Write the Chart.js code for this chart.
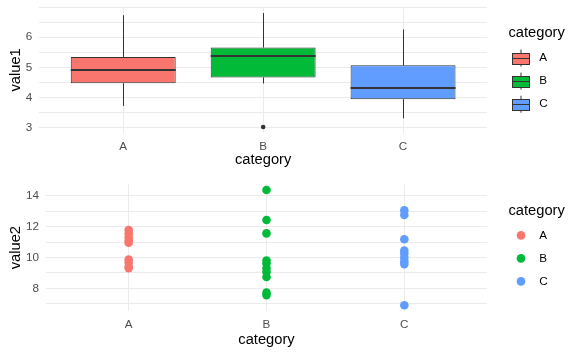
<!DOCTYPE html>
<html>
<head>
<meta charset="utf-8">
<script src="https://cdn.jsdelivr.net/npm/chart.js@4.4.1/dist/chart.umd.min.js"></script>
<style>
  html, body { margin: 0; padding: 0; background: #ffffff; }
  body { width: 581px; height: 355px; overflow: hidden; position: relative; }
  #c1 { position: absolute; left: 0; top: 0; }
  #c2 { position: absolute; left: 0; top: 175px; }
</style>
</head>
<body>
<canvas id="c1" width="581" height="175"></canvas>
<canvas id="c2" width="581" height="180"></canvas>
<script>
// ---------------- data ----------------
const categories = ['A', 'B', 'C'];
const colors = ['#F8766D', '#00BA38', '#619CFF'];

// value1 box plot statistics (per category)
const whiskerLow  = [3.73, 4.47, 3.32];
const quartile1   = [4.48, 4.67, 3.95];
const medians     = [4.91, 5.38, 4.33];
const quartile3   = [5.35, 5.66, 5.07];
const whiskerHigh = [6.73, 6.80, 6.26];
const outlierCategory = ['B'];
const outlierValue    = [3.03];

// value2 points (per category)
const value2A = [11.78, 11.55, 11.30, 11.10, 10.95, 9.87, 9.65, 9.40, 9.31];
const value2B = [14.37, 12.43, 11.56, 9.80, 9.60, 9.30, 9.05, 8.73, 7.72, 7.56];
const value2C = [13.05, 12.75, 11.18, 10.45, 10.25, 10.00, 9.75, 9.57, 6.90];
const value2 = [value2A, value2B, value2C];

// tick labels
const value1Ticks = [3, 4, 5, 6];
const value2Ticks = [8, 10, 12, 14];

// ---------------- styling ----------------
const FONT = '"Liberation Sans", Arial, sans-serif';
const GRID = '#EBEBEB';
const TICK_COLOR = '#4D4D4D';
const LINE = '#333333';

Chart.defaults.font.family = FONT;
Chart.defaults.devicePixelRatio = 1;

function xScale(height, pad) {
  return {
    type: 'linear', min: -0.6, max: 2.6, offset: false,
    afterFit: s => { s.height = height; s.paddingLeft = 0; s.paddingRight = 0; },
    border: { display: false },
    grid: { color: GRID, lineWidth: 1, drawTicks: false, offset: false },
    ticks: {
      stepSize: 1, includeBounds: false, autoSkip: false,
      padding: pad, color: TICK_COLOR, font: { size: 11.7 },
      callback: v => (categories[v] !== undefined ? categories[v] : '')
    },
    title: { display: true, text: 'category', color: '#000', font: { size: 14.7 }, padding: { top: 0, bottom: 6 } }
  };
}

function yScale(min, max, step, labels, width, title) {
  return {
    type: 'linear', min: min, max: max,
    afterFit: s => { s.width = width; s.paddingTop = 0; s.paddingBottom = 0; },
    border: { display: false },
    grid: { color: GRID, lineWidth: 1, drawTicks: false },
    ticks: {
      stepSize: step, includeBounds: false, autoSkip: false,
      padding: 7, color: TICK_COLOR, font: { size: 11.7 },
      callback: v => (labels.includes(v) ? String(v) : '')
    },
    title: { display: true, text: title, color: '#000', font: { size: 14.7 }, padding: { top: 6.7, bottom: 0 } }
  };
}

function legendPlugin(kind, titleBaseline, firstY, stepY) {
  return {
    id: 'ggLegend' + kind,
    afterDraw(chart) {
      const ctx = chart.ctx;
      ctx.save();
      ctx.fillStyle = '#000';
      ctx.font = '14.7px ' + FONT;
      ctx.textAlign = 'left';
      ctx.textBaseline = 'alphabetic';
      ctx.fillText('category', 508.5, titleBaseline);
      categories.forEach((c, i) => {
        const cy = firstY + i * stepY;
        if (kind === 'box') {
          const x0 = 512.5, x1 = 529.5, xm = 521;
          ctx.strokeStyle = LINE;
          ctx.lineWidth = 1;
          ctx.beginPath();
          ctx.moveTo(xm, cy - 8.5); ctx.lineTo(xm, cy + 8.5);
          ctx.stroke();
          ctx.fillStyle = colors[i];
          ctx.fillRect(x0, Math.round(cy - 5.5) + 0.5, x1 - x0, 11);
          ctx.strokeRect(x0, Math.round(cy - 5.5) + 0.5, x1 - x0, 11);
          ctx.beginPath();
          ctx.moveTo(x0, Math.round(cy) + 0.5); ctx.lineTo(x1, Math.round(cy) + 0.5);
          ctx.stroke();
        } else {
          ctx.fillStyle = colors[i];
          ctx.beginPath();
          ctx.arc(521, cy, 4.3, 0, Math.PI * 2);
          ctx.fill();
        }
        ctx.fillStyle = '#000';
        ctx.font = '11.7px ' + FONT;
        ctx.textBaseline = 'middle';
        ctx.fillText(c, 539.3, cy);
        ctx.textBaseline = 'alphabetic';
        ctx.font = '14.7px ' + FONT;
      });
      ctx.restore();
    }
  };
}

// whiskers (under boxes) and medians (over boxes)
const boxPlugin = {
  id: 'boxParts',
  beforeDatasetsDraw(chart) {
    const ctx = chart.ctx, xs = chart.scales.x, ys = chart.scales.y;
    ctx.save();
    ctx.strokeStyle = LINE;
    ctx.lineWidth = 1;
    categories.forEach((c, i) => {
      const x = Math.round(xs.getPixelForValue(i)) + 0.5;
      ctx.beginPath();
      ctx.moveTo(x, ys.getPixelForValue(whiskerHigh[i]));
      ctx.lineTo(x, ys.getPixelForValue(quartile3[i]));
      ctx.moveTo(x, ys.getPixelForValue(quartile1[i]));
      ctx.lineTo(x, ys.getPixelForValue(whiskerLow[i]));
      ctx.stroke();
    });
    ctx.restore();
  },
  afterDatasetsDraw(chart) {
    const ctx = chart.ctx, xs = chart.scales.x, ys = chart.scales.y;
    ctx.save();
    ctx.strokeStyle = LINE;
    ctx.lineWidth = 2;
    categories.forEach((c, i) => {
      const bar = chart.getDatasetMeta(i).data[0];
      const half = bar.width / 2;
      const x = xs.getPixelForValue(i);
      const y = Math.round(ys.getPixelForValue(medians[i]));
      ctx.beginPath();
      ctx.moveTo(x - half, y);
      ctx.lineTo(x + half, y);
      ctx.stroke();
    });
    ctx.restore();
  }
};

// ---------------- top chart: box plot of value1 ----------------
const boxDatasets = categories.map((c, i) => ({
  type: 'bar',
  label: c,
  data: [{ x: i, y: [quartile1[i], quartile3[i]] }],
  backgroundColor: colors[i],
  borderColor: LINE,
  borderWidth: 1,
  borderSkipped: false,
  grouped: false,
  barPercentage: 0.75,
  categoryPercentage: 1
}));
boxDatasets.push({
  type: 'scatter',
  label: 'outliers',
  data: outlierCategory.map((c, k) => ({ x: categories.indexOf(c), y: outlierValue[k] })),
  backgroundColor: LINE,
  borderWidth: 0,
  pointRadius: 2.3
});

new Chart(document.getElementById('c1'), {
  type: 'bar',
  data: { datasets: boxDatasets },
  options: {
    responsive: false,
    animation: false,
    layout: { padding: { top: 7, right: 94, bottom: 0, left: 0 } },
    plugins: { legend: { display: false }, tooltip: { enabled: false } },
    scales: {
      x: xScale(42.2, 7),
      y: yScale(2.84, 7.0, 0.5, value1Ticks, 39.3, 'value1')
    }
  },
  plugins: [boxPlugin, legendPlugin('box', 36.9, 58, 23.1)]
});

// ---------------- bottom chart: points of value2 ----------------
new Chart(document.getElementById('c2'), {
  type: 'scatter',
  data: {
    datasets: categories.map((c, i) => ({
      label: c,
      data: value2[i].map(v => ({ x: i, y: v })),
      backgroundColor: colors[i],
      borderWidth: 0,
      pointRadius: 4.3
    }))
  },
  options: {
    responsive: false,
    animation: false,
    layout: { padding: { top: 9.3, right: 94, bottom: 0, left: 0 } },
    plugins: { legend: { display: false }, tooltip: { enabled: false } },
    scales: {
      x: xScale(44, 6.5),
      y: yScale(6.53, 14.74, 1, value2Ticks, 46, 'value2')
    }
  },
  plugins: [legendPlugin('point', 39.6, 60.4, 23)]
});
</script>
</body>
</html>
